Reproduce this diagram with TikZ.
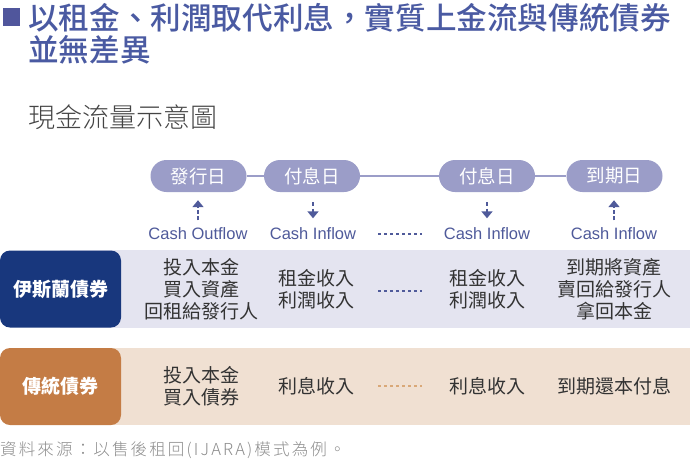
\documentclass[tikz,border=0pt]{standalone}
\usepackage{fontspec}
\setmainfont{Liberation Sans}
\newfontfamily\cjk{Noto Sans CJK TC}
\newfontfamily\cjkmed[UprightFont=* Medium]{Noto Sans CJK TC}
\newfontfamily\cjklight[UprightFont=* Light]{Noto Sans CJK TC}
\newfontfamily\cjknote[UprightFont=* Light, LetterSpace=13]{Noto Sans CJK TC}
\usetikzlibrary{arrows.meta}

\definecolor{titlec}{HTML}{4A5AA2}
\definecolor{squarec}{HTML}{50569C}
\definecolor{pillc}{HTML}{9B9DC8}
\definecolor{flowc}{HTML}{4F5A9A}
\definecolor{bandA}{HTML}{E4E4F0}
\definecolor{navyc}{HTML}{18377D}
\definecolor{bandB}{HTML}{F0E0D2}
\definecolor{orangec}{HTML}{C47C45}
\definecolor{odashc}{HTML}{D9A878}
\definecolor{cellc}{HTML}{333333}
\definecolor{notec}{HTML}{8C8C8C}
\definecolor{subc}{HTML}{444444}

\tikzset{
  pill/.style={fill=pillc, rounded corners=16pt, minimum width=96pt,
    minimum height=32pt, inner sep=0pt, text=white,
    font=\cjk\fontsize{18.5}{18.5}\selectfont},
  tline/.style={draw=pillc, line width=1.5pt},
  flowlab/.style={text=flowc, inner sep=0pt, text height=12pt, text depth=3pt,
    font=\fontsize{16.5}{16.5}\selectfont},
  flow/.style={draw=flowc, line width=1.8pt, dash pattern=on 4pt off 2.5pt,
    -{Triangle[width=11pt,length=7pt]}},
  upflow/.style={flow, shorten <=7pt, shorten >=8pt},
  downflow/.style={flow, shorten <=10pt, shorten >=9pt},
  rowhead/.style={rounded corners=10pt, minimum width=121pt, minimum height=77pt,
    inner sep=0pt, text=white, font=\cjk\bfseries\fontsize{19}{19}\selectfont},
  cell/.style={text=cellc, align=center, inner sep=0pt,
    font=\cjk\fontsize{19}{22}\selectfont},
  gapA/.style={draw=flowc, line width=1.2pt, dash pattern=on 3pt off 3pt},
  gapB/.style={draw=odashc, line width=1.2pt, dash pattern=on 3pt off 3pt},
  headline/.style={anchor=base west, inner sep=0pt, text=titlec,
    font=\cjkmed\fontsize{30.6}{30.6}\selectfont},
}

\begin{document}
\begin{tikzpicture}[x=1pt,y=-1pt]
  \useasboundingbox (0,0) rectangle (690,461);

  % heading
  \fill[squarec] (3,8) rectangle (20,26);
  \node[headline] (title) at (28,29) {以租金、利潤取代利息，實質上金流與傳統債券};
  \node[headline] (title2) at (28,61) {並無差異};
  \node[anchor=base west, inner sep=0pt, text=subc,
    font=\cjklight\fontsize{27}{27}\selectfont] (sub) at (28,127) {現金流量示意圖};

  % timeline
  \node[pill] (p1) at (198.5,176) {發行日};
  \node[pill] (p2) at (312,176) {付息日};
  \node[pill] (p3) at (487,176) {付息日};
  \node[pill] (p4) at (614.5,176) {到期日};
  \draw[tline] (p1) -- (p2);
  \draw[tline] (p2) -- (p3);
  \draw[tline] (p3) -- (p4);

  \node[flowlab] (f1) at (198,235) {Cash Outflow};
  \node[flowlab] (f2) at (313,235) {Cash Inflow};
  \node[flowlab] (f3) at (487,235) {Cash Inflow};
  \node[flowlab] (f4) at (614,235) {Cash Inflow};
  \draw[upflow] (f1) -- (p1.south -| f1);
  \draw[downflow] (p2.south -| f2) -- (f2);
  \draw[downflow] (p3.south -| f3) -- (f3);
  \draw[upflow] (f4) -- (p4.south -| f4);

  \coordinate (fa) at (378,234);
  \coordinate (fb) at (422,234);
  \draw[gapA] (fa) -- (fb);

  % Islamic bond row
  \fill[bandA] (60,250) rectangle (690,328);
  \node[rowhead, fill=navyc] (ib) at (60.5,289) {伊斯蘭債券};
  \node[cell] (ib1) at (201,289) {投入本金\\買入資產\\回租給發行人};
  \node[cell] (ib2) at (316,289) {租金收入\\利潤收入};
  \node[cell] (ib3) at (487,289) {租金收入\\利潤收入};
  \node[cell] (ib4) at (614,289) {到期將資產\\賣回給發行人\\拿回本金};
  \coordinate (ga) at (378,291);
  \coordinate (gb) at (422,291);
  \draw[gapA] (ga) -- (gb);

  % conventional bond row
  \fill[bandB] (60,348) rectangle (690,425);
  \node[rowhead, fill=orangec] (cb) at (60.5,386.5) {傳統債券};
  \node[cell] (cb1) at (201,386.5) {投入本金\\買入債券};
  \node[cell] (cb2) at (316,386.5) {利息收入};
  \node[cell] (cb3) at (487,386.5) {利息收入};
  \node[cell] (cb4) at (614,386.5) {到期還本付息};
  \coordinate (ha) at (378,386);
  \coordinate (hb) at (422,386);
  \draw[gapB] (ha) -- (hb);

  % source note
  \node[anchor=base west, inner sep=0pt, text=notec,
    font=\cjknote\fontsize{16.5}{16.5}\selectfont] (note) at (0,455)
    {資料來源：以售後租回(IJARA)模式為例。};
\end{tikzpicture}
\end{document}
